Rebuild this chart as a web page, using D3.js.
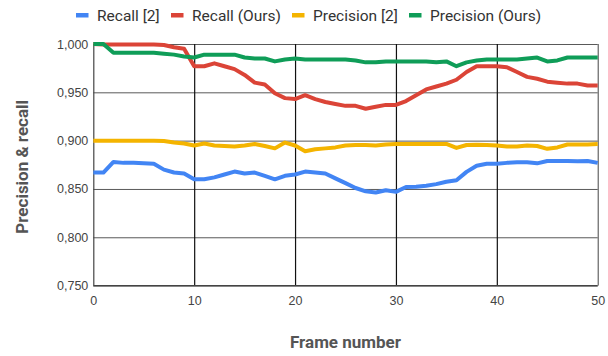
<!DOCTYPE html>
<html><head><meta charset="utf-8">
<script src="https://cdn.jsdelivr.net/npm/d3@7"></script>
<style>body{margin:0;background:#fff;}svg{display:block;font-family:Roboto,"Noto Sans",sans-serif;}</style>
</head><body><svg id="c" width="608" height="356"></svg>
<script>
const frames = d3.range(0, 51);
const seriesNames = ["Recall [2]", "Recall (Ours)", "Precision [2]", "Precision (Ours)"];
const seriesColors = ["#4285F4", "#DB4437", "#F4B400", "#0F9D58"];
const recall2 = [0.867,0.867,0.878,0.877,0.877,0.8765,0.876,0.870,0.867,0.866,0.860,0.860,0.862,0.865,0.868,0.866,0.867,0.8636,0.860,0.8636,0.865,0.868,0.867,0.866,0.861,0.856,0.851,0.8476,0.8463,0.8487,0.847,0.852,0.8524,0.8534,0.855,0.8575,0.859,0.8677,0.874,0.876,0.876,0.877,0.8776,0.8776,0.8765,0.879,0.879,0.879,0.8786,0.879,0.877];
const recallOurs = [1.0,0.9995,0.9995,0.9995,0.9995,0.9995,0.9995,0.999,0.9966,0.995,0.977,0.977,0.980,0.977,0.974,0.968,0.960,0.958,0.949,0.944,0.943,0.947,0.943,0.940,0.938,0.936,0.936,0.933,0.935,0.937,0.937,0.941,0.947,0.953,0.956,0.959,0.963,0.971,0.977,0.977,0.977,0.976,0.971,0.966,0.964,0.961,0.960,0.959,0.959,0.957,0.957];
const precision2 = [0.900,0.900,0.900,0.900,0.900,0.900,0.900,0.8997,0.898,0.897,0.895,0.897,0.895,0.8945,0.894,0.895,0.8966,0.8945,0.892,0.898,0.895,0.889,0.891,0.892,0.893,0.895,0.8955,0.8955,0.895,0.896,0.8966,0.8966,0.8966,0.8966,0.8966,0.8966,0.8925,0.8955,0.8958,0.8955,0.895,0.894,0.894,0.895,0.8945,0.8915,0.893,0.896,0.896,0.896,0.8966];
const precisionOurs = [1.0,1.0,0.991,0.991,0.991,0.991,0.991,0.990,0.989,0.987,0.986,0.989,0.989,0.989,0.989,0.986,0.985,0.985,0.982,0.984,0.985,0.984,0.984,0.984,0.984,0.984,0.983,0.981,0.981,0.982,0.982,0.982,0.982,0.982,0.981,0.982,0.977,0.981,0.983,0.984,0.984,0.984,0.984,0.985,0.986,0.982,0.983,0.986,0.986,0.986,0.986];
const yTicks = [0.75, 0.8, 0.85, 0.9, 0.95, 1.0];
const xTicks = [0, 10, 20, 30, 40, 50];
const xTitle = "Frame number";
const yTitle = "Precision & recall";

const svg = d3.select("#c");
const L = 93.3, R = 597.7, T = 44, B = 285.6;
const x = d3.scaleLinear().domain([0, 50]).range([L, R]);
const y = d3.scaleLinear().domain([0.75, 1.0]).range([B, T]);
const fmt = v => d3.format(".3f")(v).replace(".", ",");

// horizontal gridlines
svg.append("g").attr("transform", `translate(${L},0)`)
  .call(d3.axisLeft(y).tickValues(yTicks).tickSize(-(R - L)).tickFormat(fmt).tickPadding(5))
  .call(g => g.select(".domain").remove())
  .call(g => g.selectAll(".tick line").attr("stroke", "#595959").attr("stroke-width", 1))
  .call(g => g.selectAll(".tick text").attr("fill", "#444").attr("font-size", 12.5));

// vertical gridlines
svg.append("g").attr("transform", `translate(0,${B})`)
  .call(d3.axisBottom(x).tickValues(xTicks).tickSize(-(B - T)).tickPadding(11))
  .call(g => g.select(".domain").remove())
  .call(g => g.selectAll(".tick line").attr("stroke", (d) => (d === 0 || d === 50) ? "#444" : "#111").attr("stroke-width", d => d === 50 ? 1 : 1.2))
  .call(g => g.selectAll(".tick text").attr("fill", "#444").attr("font-size", 12.5));

// bottom axis line
svg.append("line").attr("x1", L).attr("x2", R).attr("y1", B).attr("y2", B).attr("stroke", "#444").attr("stroke-width", 1.3);

const allSeries = [recall2, recallOurs, precision2, precisionOurs];
const line = d3.line().x((d, i) => x(frames[i])).y(d => y(d));
allSeries.forEach((s, i) => {
  svg.append("path").datum(s).attr("d", line).attr("fill", "none")
    .attr("stroke", seriesColors[i]).attr("stroke-width", 4)
    .attr("stroke-linejoin", "round").attr("stroke-linecap", "butt");
});

// legend
const legendX = [76, 171, 292, 409];
seriesNames.forEach((n, i) => {
  const gx = legendX[i];
  svg.append("rect").attr("x", gx).attr("y", 13).attr("width", 12.5).attr("height", 4.5).attr("fill", seriesColors[i]);
  svg.append("text").attr("x", gx + 21).attr("y", 20.8).attr("font-size", 15.5).attr("fill", "#333").text(n);
});

// axis titles
svg.append("text").attr("x", (L + R) / 2).attr("y", 348).attr("text-anchor", "middle")
  .attr("font-size", 17).attr("font-weight", "bold").attr("fill", "#555").text(xTitle);
svg.append("text").attr("transform", `translate(28,${(T + B) / 2 + 2}) rotate(-90)`).attr("text-anchor", "middle")
  .attr("font-size", 17).attr("font-weight", "bold").attr("fill", "#555").text(yTitle);
</script></body></html>
